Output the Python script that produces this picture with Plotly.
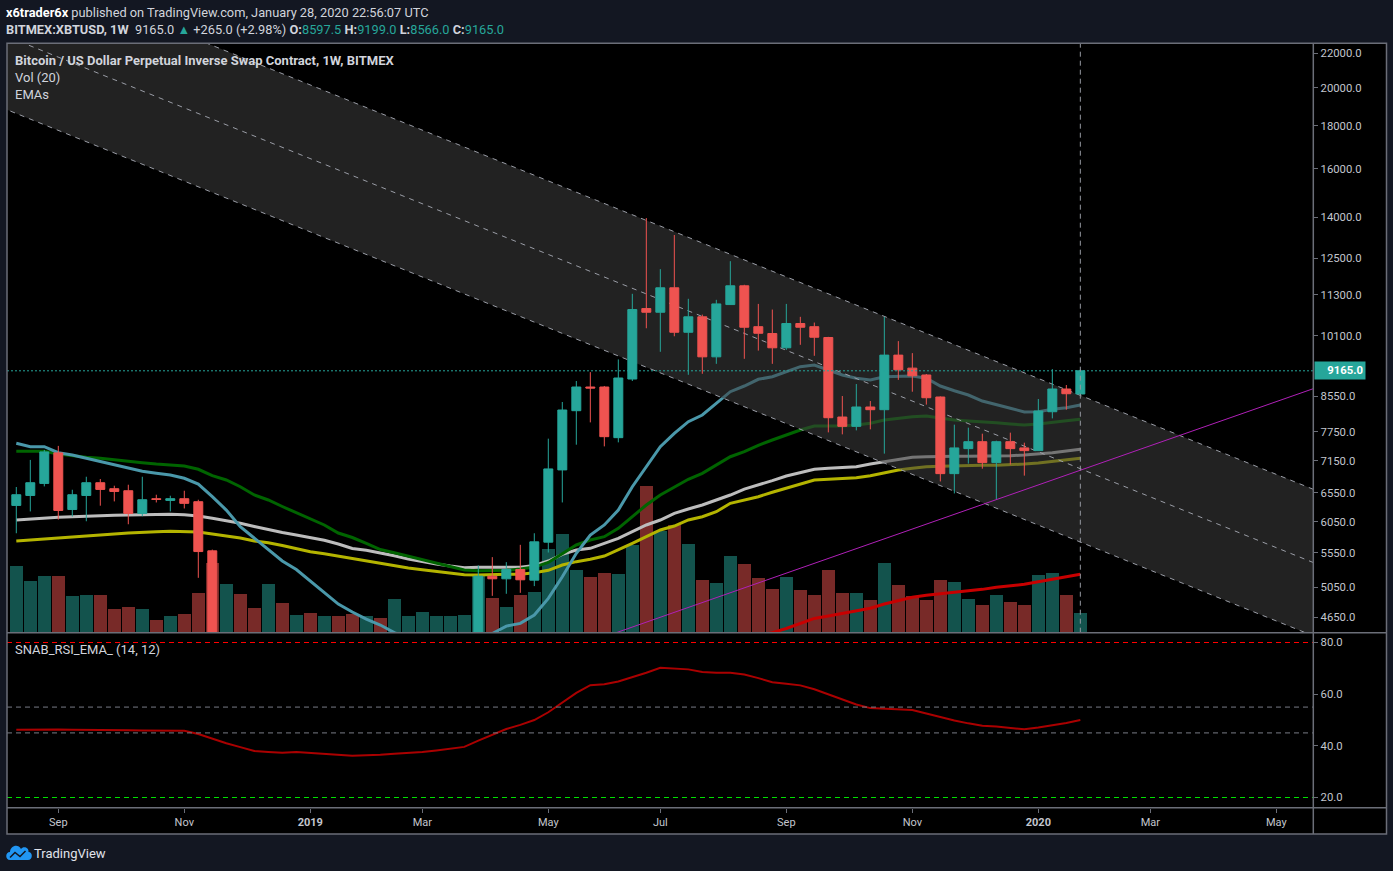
import numpy as np
import pandas as pd
import plotly.graph_objects as go

W, H = 1393, 871
FONT = "Roboto"

# ---------------- data ----------------
week_start = "2018-08-13"
n_weeks = 77

opens = [6325, 6501, 6720, 7310, 6255, 6501, 6733, 6623, 6586, 6187,
         6443, 6413, 6443, 6390, 5581, 4020, 4130, 3550, 3200, 3950,
         3850, 4000, 3580, 3600, 3520, 3450, 3650, 3620, 3850, 3870,
         3900, 4000, 4020, 4120, 5205, 5167, 5302, 5148, 5716, 6975,
         8211, 8765, 8765, 7623, 8960, 10880, 10770, 11520, 10192, 10635,
         9525, 11000, 11584, 10350, 10156, 9765, 10440, 10350, 10045, 8069,
         7864, 8295, 8234, 9570, 9233, 9060, 8527, 6904, 7396, 7539,
         7117, 7539, 7411, 7356, 8188, 8717, 8597.5]
highs = [6654, 7170, 7370, 7452, 6604, 6845, 6802, 6678, 6696, 6845,
         6514, 6496, 6586, 6425, 5600, 4400, 4200, 3620, 4200, 4250,
         4050, 4100, 3700, 3650, 3600, 3700, 3720, 4200, 3900, 3950,
         4050, 4100, 4150, 5361, 5485, 5410, 5674, 5858, 7602, 8410,
         8911, 9132, 8790, 9457, 11331, 13961, 12127, 13323, 11176, 10700,
         11145, 12397, 11616, 11020, 10850, 11020, 10635, 10468, 10064, 8550,
         8837, 8433, 10635, 9946, 9623, 9085, 8540, 7901, 7836, 7707,
         7560, 7729, 7518, 8480, 9208, 8813, 9199]
lows = [5858, 6221, 6665, 6083, 6134, 6055, 6320, 6395, 6005, 6139,
        6377, 6221, 6272, 5181, 3800, 3550, 3380, 3150, 3180, 3650,
        3700, 3550, 3500, 3450, 3380, 3380, 3550, 3600, 3700, 3750,
        3800, 3900, 3950, 4100, 4930, 4958, 4971, 5064, 5555, 6377,
        7477, 7951, 7442, 7525, 8911, 10305, 9658, 10080, 9065, 9090,
        9343, 10990, 9473, 9690, 9343, 9711, 9846, 9552, 7735, 7693,
        7778, 7800, 7295, 8940, 8652, 8350, 6757, 6537, 7097, 6999,
        6430, 7078, 6866, 7356, 8039, 8234, 8566]
closes = [6514, 6733, 7330, 6238, 6514, 6733, 6610, 6573, 6187, 6425,
          6430, 6443, 6361, 5570, 4020, 4130, 3550, 3200, 3950, 3850,
          4000, 3580, 3600, 3520, 3450, 3650, 3620, 3850, 3870, 3900,
          4000, 4020, 4120, 5205, 5167, 5302, 5153, 5721, 6994, 8227,
          8765, 8741, 7644, 8985, 10850, 10770, 11520, 10192, 10635, 9525,
          11020, 11584, 10334, 10164, 9765, 10440, 10334, 10053, 8054, 7864,
          8295, 8234, 9570, 9190, 9040, 8510, 6904, 7411, 7539, 7117,
          7539, 7396, 7356, 8204, 8717, 8604, 9165]
volume_bn = [6.6, 5.1, 5.6, 5.6, 3.6, 3.7, 3.7, 2.3, 2.5, 2.3,
             1.2, 1.6, 1.8, 3.9, 6.9, 4.8, 3.8, 2.4, 4.8, 2.9,
             1.7, 1.9, 1.6, 1.6, 1.8, 1.6, 1.4, 3.3, 1.6, 2.0,
             1.6, 1.6, 1.7, 5.6, 3.4, 2.5, 3.7, 4.0, 8.3, 9.8,
             6.2, 5.5, 5.9, 5.8, 8.7, 14.6, 10.1, 10.7, 8.8, 5.2,
             4.9, 7.6, 6.8, 5.4, 4.3, 5.5, 4.2, 3.7, 6.2, 3.9,
             3.9, 3.2, 6.9, 4.7, 3.6, 3.2, 5.2, 5.0, 3.3, 2.7,
             3.7, 3.0, 2.7, 5.7, 5.9, 3.7, 1.9]
ema_blue = [7506, 7436, 7436, 7314, 7267, 7201, 7148, 7083, 7006, 6948,
            6910, 6878, 6816, 6709, 6479, 6245, 5965, 5782, 5594, 5427,
            5301, 5135, 4982, 4820, 4715, 4625, 4549, 4456, 4390, 4330,
            4290, 4270, 4280, 4380, 4444, 4536, 4570, 4676, 4896, 5197,
            5543, 5830, 5993, 6245, 6659, 7037, 7436, 7715, 7966, 8114,
            8380, 8652, 8789, 8953, 9018, 9142, 9269, 9313, 9185, 9060,
            8978, 8936, 9018, 9035, 9035, 8978, 8789, 8676, 8574, 8433,
            8341, 8266, 8182, 8188, 8242, 8279, 8341]
ema_green = [7342, 7342, 7342, 7288, 7247, 7221, 7201, 7168, 7134, 7115,
             7089, 7070, 7050, 6987, 6865, 6784, 6659, 6509, 6420, 6306,
             6203, 6104, 5993, 5862, 5790, 5698, 5601, 5552, 5499, 5447,
             5397, 5352, 5294, 5284, 5284, 5289, 5308, 5337, 5405, 5543,
             5672, 5750, 5803, 5938, 6131, 6332, 6509, 6659, 6797, 6910,
             7070, 7233, 7334, 7464, 7574, 7679, 7786, 7872, 7872, 7872,
             7894, 7931, 8003, 8041, 8077, 8092, 8041, 8003, 7981, 7966,
             7944, 7916, 7894, 7916, 7959, 7988, 8018]
ema_gray = [6076, 6093, 6110, 6122, 6131, 6143, 6143, 6155, 6160, 6165,
            6172, 6172, 6165, 6143, 6104, 6064, 6021, 5968, 5915, 5870,
            5830, 5793, 5745, 5687, 5617, 5589, 5551, 5505, 5457, 5415,
            5382, 5352, 5327, 5333, 5333, 5333, 5333, 5360, 5427, 5528,
            5594, 5620, 5698, 5777, 5883, 5993, 6076, 6189, 6263, 6332,
            6420, 6509, 6617, 6691, 6771, 6859, 6929, 6987, 7006, 7025,
            7037, 7089, 7134, 7181, 7221, 7233, 7241, 7241, 7241, 7241,
            7247, 7253, 7267, 7288, 7314, 7348, 7383]
ema_yellow = [5734, 5750, 5777, 5782, 5798, 5814, 5830, 5846, 5862, 5878,
              5883, 5889, 5889, 5878, 5846, 5814, 5782, 5734, 5707, 5664,
              5614, 5567, 5535, 5498, 5463, 5427, 5397, 5357, 5323, 5297,
              5272, 5246, 5226, 5221, 5221, 5231, 5233, 5254, 5289, 5367,
              5417, 5453, 5502, 5594, 5698, 5803, 5911, 5976, 6076, 6131,
              6216, 6362, 6420, 6479, 6558, 6630, 6709, 6784, 6797, 6808,
              6827, 6865, 6922, 6973, 7006, 7037, 7045, 7056, 7056, 7064,
              7064, 7070, 7089, 7109, 7142, 7168, 7201]
ema_red = [None] * 52 + [4370, 4410, 4455, 4506, 4570, 4633, 4663, 4698, 4732, 4764,
                         4820, 4860, 4910, 4937, 4955, 4973, 5000, 5019, 5047, 5069,
                         5089, 5125, 5159, 5197, 5231]
rsi_ema = [46.2, 46.3, 46.4, 46.3, 46.2, 46.2, 46.2, 46.2, 46.0, 45.9,
           45.8, 45.8, 45.8, 44.6, 42.7, 41.0, 39.5, 38.0, 37.6, 37.3,
           37.6, 37.3, 37.0, 36.6, 36.2, 36.4, 36.5, 36.9, 37.2, 37.6,
           38.2, 38.8, 39.6, 42.0, 44.3, 46.5, 48.1, 50.0, 53.0, 56.8,
           60.5, 63.5, 63.8, 64.9, 66.5, 68.3, 70.2, 70.0, 69.6, 68.6,
           68.3, 68.3, 67.6, 66.2, 64.6, 64.0, 63.4, 61.9, 59.9, 57.8,
           56.0, 54.6, 54.4, 54.3, 53.9, 52.5, 51.1, 49.8, 48.7, 47.8,
           47.5, 46.9, 46.4, 47.1, 47.9, 48.8, 50.0]

price_ticks = [22000, 20000, 18000, 16000, 14000, 12500, 11300, 10100,
               8550, 7750, 7150, 6550, 6050, 5550, 5050, 4650]
rsi_ticks = [80, 60, 40, 20]
rsi_levels = [80, 55, 45, 20]
month_ticks = ["2018-09-03", "2018-11-05", "2019-01-07", "2019-03-04", "2019-05-06",
               "2019-07-01", "2019-09-02", "2019-11-04", "2020-01-06", "2020-03-02",
               "2020-05-04"]
month_labels = ["Sep", "Nov", "<b>2019</b>", "Mar", "May", "Jul", "Sep", "Nov",
                "<b>2020</b>", "Mar", "May"]

# drawings (anchor week index, price)
channel_idx = [52, 76]
channel_top = [12440, 8565]
channel_mid = [10160, 6998]
channel_bot = [8302, 5718]
trend_idx = [52, 76]
trend_price = [5040, 6969]
last_price = 9165.0

# ---------------- helpers ----------------
t0 = pd.Timestamp(week_start)
week = pd.Timedelta(days=7)
dates = pd.date_range(week_start, periods=n_weeks, freq="7D")


def px_x(x):
    return x / W


def px_y(y):
    return 1 - y / H


def extend(idx, prices, i_from=-15, i_to=110):
    l0, l1 = np.log10(prices[0]), np.log10(prices[1])
    slope = (l1 - l0) / (idx[1] - idx[0])
    xs = [i_from, i_to]
    return [t0 + week * i for i in xs], [10 ** (l0 + slope * (i - idx[0])) for i in xs]


x_range = [t0 - week * 0.664, t0 + week * 92.64]

fig = go.Figure()

# volume (bottom layer)
inc = [c >= o for o, c in zip(opens, closes)]
vol_colors = ["rgba(38,166,154,0.5)" if u else "rgba(239,83,80,0.5)" for u in inc]
fig.add_trace(go.Bar(x=dates, y=volume_bn, marker=dict(color=vol_colors, line=dict(width=0)),
                     width=7 * 86400000 * 0.93, xaxis="x", yaxis="y", hoverinfo="skip"))

# EMAs (price axis y2, below the channel fill)
for vals, col in [(ema_yellow, "#b4b400"), (ema_gray, "#bdbdbd"), (ema_green, "#006400"),
                  (ema_blue, "#4a98aa"), (ema_red, "#c80000")]:
    fig.add_trace(go.Scatter(x=dates, y=vals, mode="lines", line=dict(color=col, width=3),
                             xaxis="x", yaxis="y2", hoverinfo="skip", connectgaps=False))

# channel fill
tx, ty = extend(channel_idx, channel_top)
bx, by = extend(channel_idx, channel_bot)
mx, my = extend(channel_idx, channel_mid)
fig.add_trace(go.Scatter(x=tx, y=ty, mode="lines", line=dict(width=0, color="rgba(0,0,0,0)"),
                         xaxis="x", yaxis="y2", hoverinfo="skip"))
fig.add_trace(go.Scatter(x=bx, y=by, mode="lines", line=dict(width=0, color="rgba(0,0,0,0)"),
                         fill="tonexty", fillcolor="rgba(61,61,61,0.56)",
                         xaxis="x", yaxis="y2", hoverinfo="skip"))
for xx, yy in [(tx, ty), (mx, my), (bx, by)]:
    fig.add_trace(go.Scatter(x=xx, y=yy, mode="lines",
                             line=dict(color="#9a9da6", width=1, dash="5px,5px"),
                             xaxis="x", yaxis="y2", hoverinfo="skip"))

# top overlay (y4): candles, trend line, last price line
gx, gy = extend(trend_idx, trend_price)
fig.add_trace(go.Scatter(x=gx, y=gy, mode="lines", line=dict(color="#b020b8", width=1),
                         xaxis="x", yaxis="y4", hoverinfo="skip"))
fig.add_trace(go.Candlestick(
    x=dates, open=opens, high=highs, low=lows, close=closes,
    increasing=dict(line=dict(color="#26a69a", width=1), fillcolor="#26a69a"),
    decreasing=dict(line=dict(color="#ef5350", width=1), fillcolor="#ef5350"),
    whiskerwidth=0, xaxis="x", yaxis="y4", hoverinfo="skip"))
fig.add_trace(go.Scatter(x=x_range, y=[last_price, last_price], mode="lines",
                         line=dict(color="#26a69a", width=1, dash="2px,2px"),
                         xaxis="x", yaxis="y4", hoverinfo="skip"))

# RSI
fig.add_trace(go.Scatter(x=dates, y=rsi_ema, mode="lines", line=dict(color="#aa0000", width=2),
                         xaxis="x", yaxis="y3", hoverinfo="skip"))

# ---------------- layout ----------------
MAIN_TOP, MAIN_BOT = 43.3, 632.7
RSI_TOP, RSI_BOT = 633.3, 807.7
AX_X = 1313.3
FRAME_R, FRAME_B = 1386.5, 834
k = 835.7
log_top = np.log10(22000) + (53 - MAIN_TOP) / k
log_bot = np.log10(22000) - (MAIN_BOT - 53) / k
rsi_top = 80 + (642.5 - RSI_TOP) / 2.583
rsi_bot = 20 - (RSI_BOT - 797.5) / 2.583

tickfont = dict(family=FONT, size=11.3, color="#c3c6ce")
xtickfont = dict(family=FONT, size=11, color="#c3c6ce")
axcol = "#6b6e78"

shapes = [
    dict(type="rect", xref="paper", yref="paper", x0=px_x(7), x1=px_x(FRAME_R),
         y0=px_y(FRAME_B), y1=px_y(MAIN_TOP), fillcolor="#000000", line=dict(width=0),
         layer="below"),
]
for lvl, col in zip(rsi_levels, ["#ff0000", "#787b86", "#787b86", "#00e000"]):
    shapes.append(dict(type="line", xref="paper", yref="y3", x0=px_x(7), x1=px_x(AX_X),
                       y0=lvl, y1=lvl, line=dict(color=col, width=1, dash="5px,4px")))
shapes.append(dict(type="line", xref="x", yref="paper", x0=dates[-1], x1=dates[-1],
                   y0=px_y(MAIN_BOT), y1=px_y(MAIN_TOP),
                   line=dict(color="#9598a1", width=1, dash="5px,4px")))
shapes += [
    dict(type="rect", xref="paper", yref="paper", x0=px_x(7), x1=px_x(FRAME_R),
         y0=px_y(FRAME_B), y1=px_y(MAIN_TOP), line=dict(color=axcol, width=1.5)),
    dict(type="line", xref="paper", yref="paper", x0=px_x(AX_X), x1=px_x(AX_X),
         y0=px_y(FRAME_B), y1=px_y(MAIN_TOP), line=dict(color=axcol, width=1.5)),
    dict(type="line", xref="paper", yref="paper", x0=px_x(7), x1=px_x(FRAME_R),
         y0=px_y(MAIN_BOT), y1=px_y(MAIN_BOT), line=dict(color=axcol, width=1.5)),
    dict(type="line", xref="paper", yref="paper", x0=px_x(7), x1=px_x(FRAME_R),
         y0=px_y(RSI_BOT), y1=px_y(RSI_BOT), line=dict(color=axcol, width=1.5)),
]


def pth(cmds):
    out = []
    for c, pts in cmds:
        out.append(c + " " + " ".join(f"{px_x(a):.5f},{px_y(b):.5f}" for a, b in pts))
    return " ".join(out) + " Z"


cloud = pth([("M", [(10, 860)]),
             ("C", [(5, 860), (5, 852), (10, 852)]),
             ("C", [(10, 846), (18, 843), (21, 849)]),
             ("C", [(23, 846), (29, 847), (28.5, 852)]),
             ("C", [(33, 852), (33, 860), (28, 860)])])
shapes.append(dict(type="path", xref="paper", yref="paper", path=cloud,
                   fillcolor="#2196f3", line=dict(width=0)))
zig = "M " + " L ".join(f"{px_x(a):.5f},{px_y(b):.5f}" for a, b in
                        [(10, 857.5), (15, 852.5), (20, 856.5), (25.5, 851)])
shapes.append(dict(type="path", xref="paper", yref="paper", path=zig,
                   line=dict(color="#131722", width=1.5)))

TXT = "#d1d4dc"


def ann(x, y, text, size=12.8, color=TXT, **kw):
    d = dict(xref="paper", yref="paper", x=px_x(x), y=px_y(y), text=text, showarrow=False,
             xanchor="left", yanchor="middle", font=dict(family=FONT, size=size, color=color))
    d.update(kw)
    return d


annotations = [
    ann(4, 12.5, "<b><span style='color:#ffffff'>x6trader6x</span></b> published on TradingView.com, January 28, 2020 22:56:07 UTC"),
    ann(4, 29.5, "<b>BITMEX:XBTUSD, 1W</b>  9165.0 <span style='color:#26a69a'>▲</span> +265.0 (+2.98%) "
                 "<b>O:</b><span style='color:#26a69a'>8597.5</span> <b>H:</b><span style='color:#26a69a'>9199.0</span> "
                 "<b>L:</b><span style='color:#26a69a'>8566.0</span> <b>C:</b><span style='color:#26a69a'>9165.0</span>"),
    ann(13, 60.5, "<b>Bitcoin / US Dollar Perpetual Inverse Swap Contract, 1W, BITMEX</b>", size=13),
    ann(13, 77.5, "Vol (20)", size=13),
    ann(13, 94.5, "EMAs", size=13),
    ann(13, 649.5, "SNAB_RSI_EMA_ (14, 12)", size=13),
    ann(32, 853, "TradingView", size=13, color="#e0e3eb"),
    dict(xref="paper", yref="y2", x=px_x(AX_X + 0.5), y=np.log10(last_price), text="<b>9165.0</b>",
         showarrow=False, xanchor="left", yanchor="middle", bgcolor="#26a69a",
         font=dict(family=FONT, size=11.3, color="#ffffff"), borderpad=2, width=46, align="right"),
]

price_axis = dict(type="log", range=[log_bot, log_top], fixedrange=True)

fig.update_layout(
    width=W, height=H, margin=dict(l=0, r=0, t=0, b=0),
    paper_bgcolor="#131722", plot_bgcolor="#000000",
    showlegend=False, hovermode=False, boxgap=0.2, boxgroupgap=0.2, bargap=0,
    xaxis=dict(type="date", domain=[px_x(7), px_x(AX_X)], range=x_range, anchor="y3",
               tickvals=month_ticks, ticktext=month_labels, showgrid=False, zeroline=False,
               showline=False, ticks="outside", ticklen=4, tickcolor=axcol, tickfont=xtickfont,
               rangeslider=dict(visible=False), fixedrange=True),
    yaxis=dict(domain=[px_y(MAIN_BOT), px_y(MAIN_TOP)], range=[0, (MAIN_BOT - MAIN_TOP) / 10],
               visible=False, fixedrange=True),
    yaxis2=dict(overlaying="y", side="right", anchor="x",
                tickvals=price_ticks, ticktext=[f"{v:.1f}" for v in price_ticks],
                showgrid=False, zeroline=False, showline=False, ticks="outside", ticklen=4,
                tickcolor=axcol, tickfont=tickfont, **price_axis),
    yaxis4=dict(overlaying="y", side="right", anchor="x", visible=False, showgrid=False,
                zeroline=False, **price_axis),
    yaxis3=dict(domain=[px_y(RSI_BOT), px_y(RSI_TOP)], range=[rsi_bot, rsi_top], side="right",
                anchor="x", tickvals=rsi_ticks, ticktext=[f"{v:.1f}" for v in rsi_ticks],
                showgrid=False, zeroline=False, showline=False, ticks="outside", ticklen=4,
                tickcolor=axcol, tickfont=tickfont, fixedrange=True),
    shapes=shapes, annotations=annotations,
)

fig.write_html("out.html", config={"displayModeBar": False},
               post_script="document.body.style.margin='0';document.body.style.background='#131722';")
